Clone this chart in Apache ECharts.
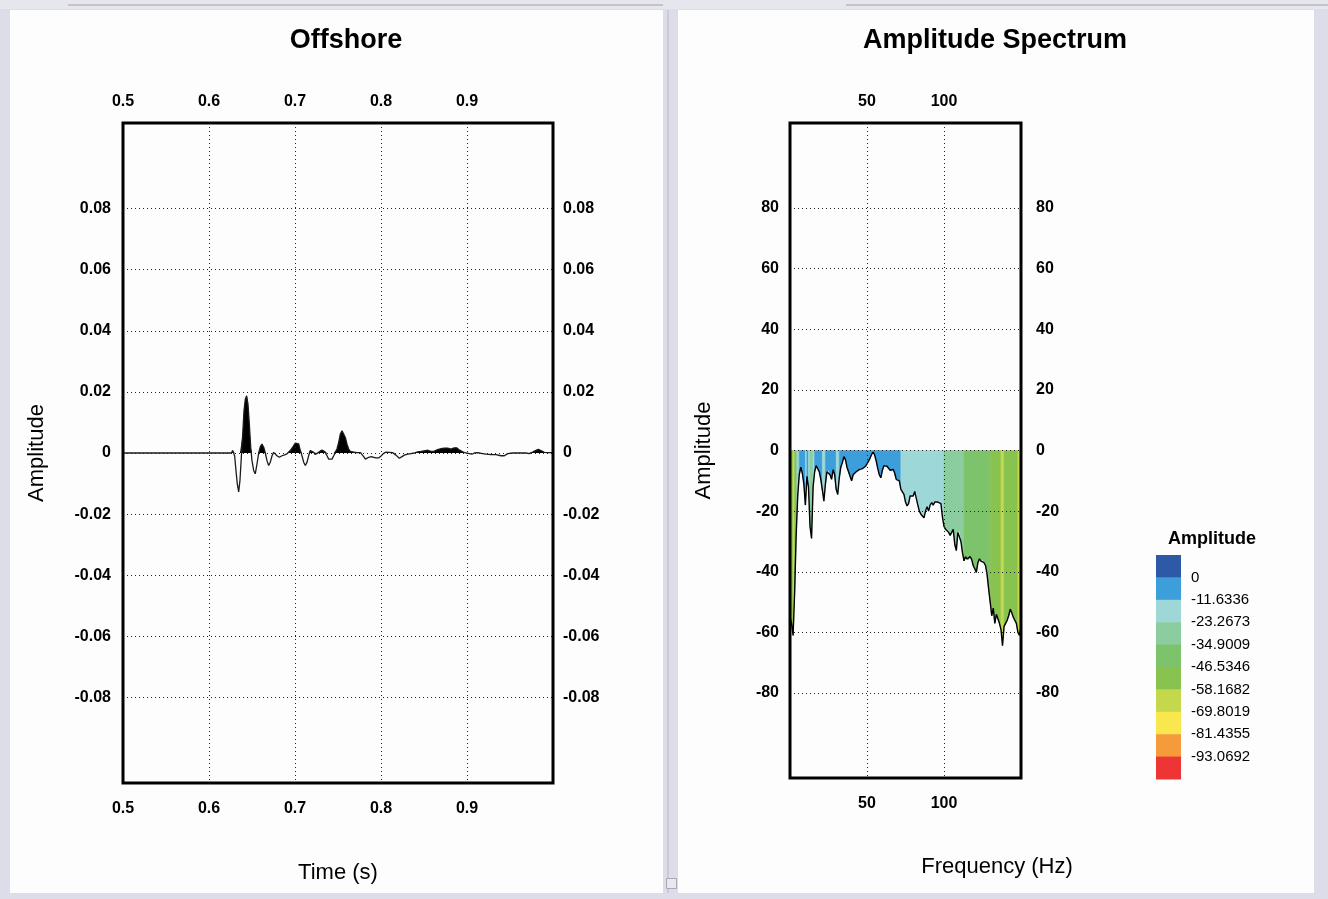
<!DOCTYPE html>
<html>
<head>
<meta charset="utf-8">
<title>Offshore trace and amplitude spectrum</title>
<script src="https://cdn.jsdelivr.net/npm/echarts@6/dist/echarts.min.js"></script>
<style>
  html, body { margin: 0; padding: 0; background: #dcdde8; }
  #chart { width: 1328px; height: 899px; }
</style>
</head>
<body>
<div id="chart"></div>
<script>
// ---- Offshore trace: time (s) and amplitude ----
const traceTime = [
  0.500, 0.626, 0.6275, 0.6298, 0.6314, 0.6329, 0.6345, 0.6360, 0.6376, 0.6392,
  0.6407, 0.6422, 0.6438, 0.6453, 0.6469, 0.6485, 0.6500, 0.6520, 0.6538, 0.6558,
  0.6578, 0.6597, 0.6616, 0.6636, 0.6655, 0.6674, 0.6694, 0.6713, 0.6733, 0.6752,
  0.6771, 0.6790, 0.6817, 0.6849, 0.6880, 0.6907, 0.6926, 0.6945, 0.6965, 0.6985,
  0.7003, 0.7023, 0.7043, 0.7062, 0.7081, 0.7101, 0.7120, 0.7140, 0.7159, 0.7178,
  0.7198, 0.7217, 0.7236, 0.7256, 0.7276, 0.7294, 0.7314, 0.7334, 0.7352, 0.7372,
  0.7392, 0.7410, 0.7430, 0.7450, 0.7469, 0.7488, 0.7508, 0.7527, 0.7547, 0.7566,
  0.7585, 0.7605, 0.7624, 0.7643, 0.7683, 0.7721, 0.7760, 0.7779, 0.7799, 0.7818,
  0.7837, 0.7857, 0.7888, 0.7915, 0.7942, 0.7973, 0.8004, 0.8031, 0.8058, 0.8097,
  0.8136, 0.8174, 0.8213, 0.8244, 0.8271, 0.8310, 0.8349, 0.8387, 0.8427, 0.8465,
  0.8503, 0.8543, 0.8581, 0.8620, 0.8659, 0.8698, 0.8736, 0.8776, 0.8814, 0.8852,
  0.8880, 0.8910, 0.8950, 0.8988, 0.9027, 0.9058, 0.9085, 0.9124, 0.9163, 0.9221,
  0.9279, 0.9337, 0.9395, 0.9434, 0.9473, 0.9531, 0.9608, 0.9686, 0.9724, 0.9764,
  0.9802, 0.9829, 0.9860, 0.9899, 0.9938, 1.000
];
const traceAmp = [
  0, 0, 0.0008, -0.0009, -0.0058, -0.0101, -0.0127, -0.0090, -0.0014, 0.0062,
  0.0138, 0.0176, 0.0187, 0.0160, 0.0095, 0.0019, -0.0025, -0.0058, -0.0068, -0.0036,
  0.0000, 0.0021, 0.0029, 0.0019, 0.0000, -0.0025, -0.0041, -0.0030, -0.0009, 0.0002,
  -0.0003, -0.0009, -0.0014, -0.0009, -0.0006, -0.0003, 0.0002, 0.0008, 0.0013, 0.0024,
  0.0032, 0.0035, 0.0030, 0.0008, -0.0009, -0.0030, -0.0041, -0.0030, -0.0009, 0.0008,
  0.0010, 0.0002, -0.0005, -0.0003, 0.0002, 0.0008, 0.0010, 0.0008, 0.0002, -0.0009,
  -0.0020, -0.0023, -0.0020, -0.0009, 0.0002, 0.0013, 0.0035, 0.0062, 0.0073, 0.0068,
  0.0051, 0.0029, 0.0013, 0.0005, 0.0003, 0.0001, 0.0001, -0.0003, -0.0012, -0.0020,
  -0.0020, -0.0014, -0.0012, -0.0014, -0.0016, -0.0016, -0.0009, -0.0001, 0.0003, 0.0002,
  0.0001, -0.0007, -0.0017, -0.0012, -0.0007, -0.0004, -0.0002, 0.0000, 0.0004, 0.0005,
  0.0007, 0.0009, 0.0005, 0.0006, 0.0011, 0.0014, 0.0016, 0.0016, 0.0013, 0.0017,
  0.0017, 0.0010, 0.0004, 0.0000, -0.0002, -0.0004, 0.0000, 0.0001, -0.0001, -0.0004,
  -0.0005, -0.0005, -0.0009, -0.0009, -0.0002, 0.0000, 0.0000, 0.0000, -0.0002, 0.0003,
  0.0009, 0.0012, 0.0008, 0.0002, 0.0001, 0.0001
];

// ---- Amplitude spectrum (dB), one sample per Hz starting at 0 Hz ----
const specStartHz = 0;
const specStepHz = 1;
const specAmp = [
  -55, -57, -61, -47, -28, -15, -8, -5.5, -7.5, -11,
  -18, -8.5, -12, -25, -29, -12, -7, -5, -5.5, -7,
  -9.5, -13, -16.7, -11, -7, -6.5, -8, -9.5, -6.3, -8,
  -12.8, -14.5, -9, -5.5, -4, -2, -3, -5.5, -7, -8.5,
  -10, -8, -7.5, -7, -6.5, -6.3, -5.8, -6, -5.6, -5.2,
  -4.4, -3.5, -2.5, -1.3, -0.5, -1.5, -3.5, -6, -8, -9,
  -6.5, -5, -4.6, -5.2, -5.8, -6.5, -6.8, -6.2, -7.5, -9.5,
  -9.2, -10, -12.8, -13, -14.5, -17, -18.3, -17.5, -15, -14.5,
  -15, -13.5, -14, -18, -20, -21, -21.5, -22.2, -20, -18.5,
  -20, -18, -17.2, -18, -17, -16.5, -17, -16.8, -17.5, -22,
  -25, -26, -26.3, -27, -28, -27, -26, -31, -33, -27,
  -26.5, -30, -33.7, -36.4, -35, -35.8, -36, -35, -36, -38,
  -39, -40.2, -37, -35.7, -36.5, -36, -37, -38, -41, -45.7,
  -50, -54.5, -52, -57, -54, -55.5, -57, -59, -64.4, -58,
  -57, -56, -54.5, -52.3, -53.5, -55, -56, -57, -60, -61,
  -58
];
const specFreq = specAmp.map((_, i) => specStartHz + i * specStepHz);

// ---- Tick values ----
const timeTicks = [0.5, 0.6, 0.7, 0.8, 0.9];
const traceAmpTicks = [-0.08, -0.06, -0.04, -0.02, 0, 0.02, 0.04, 0.06, 0.08];
const freqTicks = [50, 100];
const specAmpTicks = [-80, -60, -40, -20, 0, 20, 40, 60, 80];

// ---- Colour scale for the spectrum fill (class breaks, high to low) ----
const scaleBreaks = [0, -11.6336, -23.2673, -34.9009, -46.5346, -58.1682, -69.8019, -81.4355, -93.0692];
const scaleColors = ['#2e59a7', '#3c9fdc', '#9dd7d7', '#8ccd9f', '#7dc36b', '#88c34f',
                     '#c5d84b', '#f8e84d', '#f59b3b', '#ee3536'];

function colourClass(v) {
  let k = 0;
  for (const b of scaleBreaks) if (v <= b) k++;
  return k;
}

// Group consecutive spectrum segments sharing a colour class into runs [start, end, class]
const specRuns = [];
for (let i = 0; i < specAmp.length - 1; i++) {
  const c = colourClass(specAmp[i]);
  const last = specRuns[specRuns.length - 1];
  if (last && last[2] === c && last[1] === i - 1) last[1] = i;
  else specRuns.push([i, i, c]);
}

const FONT = 'Liberation Sans';
const tickText = { fontFamily: FONT, fontWeight: 'bold', fontSize: 16, color: '#000' };
const nameText = { fontFamily: FONT, fontSize: 22, color: '#000' };
const gridLine = { type: [1, 3], color: '#222', width: 1 };

function xAxisDef(gridIndex, pos, min, max, ticks, fmt, extra) {
  return Object.assign({
    gridIndex, type: 'value', position: pos, min, max, z: 5,
    axisLine: { show: false },
    axisTick: { show: false, customValues: ticks },
    axisLabel: Object.assign({ customValues: ticks, formatter: fmt, margin: pos === 'top' ? 13 : 18 }, tickText),
    splitLine: { show: pos === 'bottom', lineStyle: gridLine }
  }, extra || {});
}
function yAxisDef(gridIndex, pos, min, max, ticks, fmt, margin, extra) {
  return Object.assign({
    gridIndex, type: 'value', position: pos, min, max, z: 5,
    axisLine: { show: false },
    axisTick: { show: false, customValues: ticks },
    axisLabel: Object.assign({ customValues: ticks, formatter: fmt, margin }, tickText),
    splitLine: { show: pos === 'left', lineStyle: gridLine }
  }, extra || {});
}

const fmtTime = v => v.toFixed(1);
const fmtTraceAmp = v => (v === 0 ? '0' : v.toFixed(2));
const fmtInt = v => String(Math.round(v));

// Legend geometry
const legX = 1156, legTop = 555, legW = 25, legH = 22.4;
const legendGraphics = [
  { type: 'text', x: 1212, y: 539, z: 10,
    style: { text: 'Amplitude', fontFamily: FONT, fontWeight: 'bold', fontSize: 18, fill: '#000',
             align: 'center', verticalAlign: 'middle' } }
];
scaleColors.forEach((c, k) => {
  legendGraphics.push({ type: 'rect', z: 10,
    shape: { x: legX, y: legTop + k * legH, width: legW, height: legH + 0.5 },
    style: { fill: c } });
});
scaleBreaks.forEach((b, k) => {
  legendGraphics.push({ type: 'text', x: 1191, y: legTop + (k + 1) * legH, z: 10,
    style: { text: String(b), fontFamily: FONT, fontSize: 15, fill: '#000',
             align: 'left', verticalAlign: 'middle' } });
});

const chart = echarts.init(document.getElementById('chart'), null, { renderer: 'canvas' });

chart.setOption({
  animation: false,
  backgroundColor: '#dcdde8',
  graphic: [
    // window frame and panels
    { type: 'rect', z: -20, shape: { x: 0, y: 0, width: 1328, height: 9 }, style: { fill: '#e6e6ee' } },
    { type: 'rect', z: -19, shape: { x: 68, y: 4, width: 595, height: 2 }, style: { fill: '#c4c4c8' } },
    { type: 'rect', z: -19, shape: { x: 846, y: 4, width: 482, height: 2 }, style: { fill: '#c4c4c8' } },
    { type: 'rect', z: -18, shape: { x: 10, y: 10, width: 653, height: 883 }, style: { fill: '#fdfdfd' } },
    { type: 'rect', z: -18, shape: { x: 678, y: 10, width: 636, height: 883 }, style: { fill: '#fdfdfd' } },
    { type: 'rect', z: -17, shape: { x: 667, y: 10, width: 2, height: 883 }, style: { fill: '#c9cad4' } },
    { type: 'rect', z: -16, shape: { x: 666.5, y: 878.5, width: 10, height: 10 },
      style: { fill: '#e8e8ee', stroke: '#a8a8b4', lineWidth: 1 } },
    // titles
    { type: 'text', x: 346, y: 41, z: 10,
      style: { text: 'Offshore', fontFamily: FONT, fontWeight: 'bold', fontSize: 27, fill: '#000',
               align: 'center', verticalAlign: 'middle' } },
    { type: 'text', x: 995, y: 41, z: 10,
      style: { text: 'Amplitude Spectrum', fontFamily: FONT, fontWeight: 'bold', fontSize: 27, fill: '#000',
               align: 'center', verticalAlign: 'middle' } },
    // frequency axis title, centred under the spectrum panel
    { type: 'text', x: 997, y: 867, z: 10,
      style: { text: 'Frequency (Hz)', fontFamily: FONT, fontSize: 22, fill: '#000',
               align: 'center', verticalAlign: 'middle' } }
  ].concat(legendGraphics),
  grid: [
    { left: 123, top: 123, width: 430, height: 660, show: true, z: 10,
      borderColor: '#000', borderWidth: 3, backgroundColor: 'transparent', containLabel: false },
    { left: 790, top: 123, width: 231, height: 655, show: true, z: 10,
      borderColor: '#000', borderWidth: 3, backgroundColor: 'transparent', containLabel: false }
  ],
  xAxis: [
    xAxisDef(0, 'bottom', 0.5, 1.0, timeTicks, fmtTime,
      { name: 'Time (s)', nameLocation: 'middle', nameGap: 79, nameTextStyle: nameText }),
    xAxisDef(0, 'top', 0.5, 1.0, timeTicks, fmtTime),
    xAxisDef(1, 'bottom', 0, 150, freqTicks, fmtInt),
    xAxisDef(1, 'top', 0, 150, freqTicks, fmtInt)
  ],
  yAxis: [
    yAxisDef(0, 'left', -0.108, 0.108, traceAmpTicks, fmtTraceAmp, 12,
      { name: 'Amplitude', nameLocation: 'middle', nameGap: 75, nameTextStyle: nameText }),
    yAxisDef(0, 'right', -0.108, 0.108, traceAmpTicks, fmtTraceAmp, 10),
    yAxisDef(1, 'left', -108, 108, specAmpTicks, fmtInt, 11,
      { name: 'Amplitude', nameLocation: 'middle', nameGap: 75, nameTextStyle: nameText }),
    yAxisDef(1, 'right', -108, 108, specAmpTicks, fmtInt, 15)
  ],
  series: [
    // positive lobes of the trace, filled black
    { type: 'line', xAxisIndex: 0, yAxisIndex: 0, symbol: 'none', silent: true, z: 2,
      data: traceTime.map((t, i) => [t, Math.max(traceAmp[i], 0)]),
      lineStyle: { width: 0 }, areaStyle: { color: '#000', opacity: 1 } },
    // trace wiggle
    { type: 'line', xAxisIndex: 0, yAxisIndex: 0, symbol: 'none', z: 3,
      data: traceTime.map((t, i) => [t, traceAmp[i]]),
      lineStyle: { color: '#1a1a1a', width: 1.3 } },
    // spectrum fill coloured by amplitude class
    { type: 'custom', xAxisIndex: 2, yAxisIndex: 2, clip: true, silent: true, z: 2,
      data: specRuns,
      renderItem: function (params, api) {
        const s = api.value(0), e = api.value(1), c = api.value(2);
        const pts = [api.coord([specFreq[s], 0])];
        for (let i = s; i <= e + 1; i++) pts.push(api.coord([specFreq[i], specAmp[i]]));
        pts.push(api.coord([specFreq[e + 1], 0]));
        return { type: 'polygon', shape: { points: pts },
                 style: { fill: scaleColors[c], stroke: scaleColors[c], lineWidth: 0.6 } };
      } },
    // spectrum curve
    { type: 'line', xAxisIndex: 2, yAxisIndex: 2, symbol: 'none', z: 3,
      data: specFreq.map((f, i) => [f, specAmp[i]]),
      lineStyle: { color: '#000', width: 1.4 } }
  ]
});
</script>
</body>
</html>
